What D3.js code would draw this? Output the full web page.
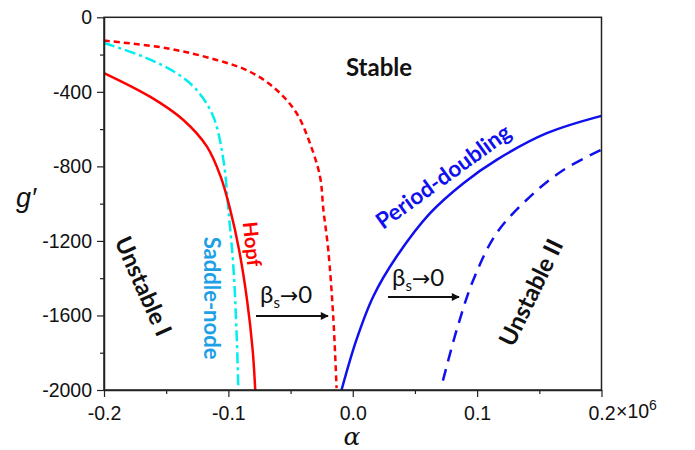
<!DOCTYPE html>
<html><head><meta charset="utf-8">
<script src="https://cdn.jsdelivr.net/npm/d3@7"></script>
<style>body{margin:0;background:#fff}</style>
</head><body>
<svg id="c" width="695" height="450"></svg>
<script>
// Data (alpha in units of 1e6, g')
const hopfSolid = [[-0.2,-299],[-0.163,-426],[-0.1362,-551],[-0.1172,-694],[-0.1062,-855],[-0.0985,-1033],[-0.0914,-1248],[-0.085,-1516],[-0.0805,-1784],[-0.0784,-2000]];
const saddleNode = [[-0.2,-138],[-0.1685,-211],[-0.1416,-300],[-0.1255,-390],[-0.1121,-533],[-0.104,-765],[-0.1,-1033],[-0.096,-1337],[-0.0934,-1694],[-0.092,-1985]];
const hopfDashed = [[-0.2,-125],[-0.1496,-166],[-0.1094,-229],[-0.0826,-292],[-0.0612,-390],[-0.0451,-515],[-0.0344,-676],[-0.0263,-855],[-0.0236,-1033],[-0.0197,-1248],[-0.0157,-1605],[-0.013,-1990]];
const pdSolid = [[-0.009,-2000],[0.003,-1730],[0.0165,-1498],[0.0353,-1284],[0.0622,-1051],[0.089,-890],[0.1157,-765],[0.156,-622],[0.2,-529]];
const pdDashed = [[0.0725,-1950],[0.0836,-1677],[0.097,-1408],[0.1157,-1158],[0.1426,-962],[0.1694,-819],[0.2,-711]];
const xTicks = [-0.2,-0.1,0.0,0.1,0.2];
const xTickLabels = ["-0.2","-0.1","0.0","0.1","0.2"];
const yTicks = [0,-400,-800,-1200,-1600,-2000];
const yTickLabels = ["0","-400","-800","-1200","-1600","-2000"];

const svg = d3.select("#c");
const x = d3.scaleLinear().domain([-0.2,0.2]).range([104,601.5]);
const y = d3.scaleLinear().domain([0,-2000]).range([17.3,390]);

const line = d3.line().x(d=>x(d[0])).y(d=>y(d[1])).curve(d3.curveCatmullRom.alpha(0.5));
const plot = svg.append("g");
plot.append("path").datum(hopfDashed).attr("d",line).attr("fill","none").attr("stroke","#ff0000").attr("stroke-width",2.5).attr("stroke-dasharray","6,4");
plot.append("path").datum(saddleNode).attr("d",line).attr("fill","none").attr("stroke","#00eeee").attr("stroke-width",2.5).attr("stroke-dasharray","11,4,3,4");
plot.append("path").datum(hopfSolid).attr("d",line).attr("fill","none").attr("stroke","#ff0000").attr("stroke-width",2.5);
plot.append("path").datum(pdSolid).attr("d",line).attr("fill","none").attr("stroke","#1010ee").attr("stroke-width",2.5);
plot.append("path").datum(pdDashed).attr("d",line).attr("fill","none").attr("stroke","#1010ee").attr("stroke-width",2.5).attr("stroke-dasharray","12,8");

// frame
svg.append("rect").attr("x",104).attr("y",17.3).attr("width",601.5-104).attr("height",390-17.3).attr("fill","none").attr("stroke","#222").attr("stroke-width",1.5);

// axes
const xAxis = d3.axisBottom(x).tickValues(xTicks).tickFormat((d,i)=>xTickLabels[i]).tickSize(7).tickSizeOuter(0);
const gx = svg.append("g").attr("transform","translate(0,390)").call(xAxis);
const xMinor = d3.axisBottom(x).tickValues([-0.15,-0.05,0.05,0.15]).tickFormat("").tickSize(4).tickSizeOuter(0);
svg.append("g").attr("transform","translate(0,390)").call(xMinor).select(".domain").remove();
const yAxis = d3.axisLeft(y).tickValues(yTicks).tickFormat((d,i)=>yTickLabels[i]).tickSize(7).tickSizeOuter(0);
const gy = svg.append("g").attr("transform","translate(104,0)").call(yAxis);
const yMinor = d3.axisLeft(y).tickValues([-200,-600,-1000,-1400,-1800]).tickFormat("").tickSize(4).tickSizeOuter(0);
svg.append("g").attr("transform","translate(104,0)").call(yMinor).select(".domain").remove();
svg.selectAll(".domain").attr("stroke","#222").attr("stroke-width",1.5);
svg.selectAll(".tick line").attr("stroke","#222").attr("stroke-width",1.2);
gx.selectAll("text").attr("font-family","Liberation Sans, Arial, sans-serif").attr("font-size",19.5).attr("fill","#111").attr("dy","1.0em");
gy.selectAll("text").attr("font-family","Liberation Sans, Arial, sans-serif").attr("font-size",19.5).attr("fill","#111").attr("dx","-0.1em");

// ×10^6
const ex = svg.append("text").attr("x",616).attr("y",418).attr("font-family","Liberation Sans, Arial, sans-serif").attr("font-size",19.5).attr("fill","#111");
ex.append("tspan").text("×10");
ex.append("tspan").attr("font-size",14).attr("dy",-8).text("6");

// axis titles
svg.append("text").attr("x",352).attr("y",445).attr("text-anchor","middle").attr("font-family","DejaVu Serif, serif").attr("font-style","italic").attr("font-size",25).attr("fill","#111").text("α");
svg.append("text").attr("x",26).attr("y",207).attr("text-anchor","middle").attr("font-family","Liberation Sans, Arial, sans-serif").attr("font-style","italic").attr("font-size",27).attr("fill","#111").text("g′");

// region labels
const F = "Lato, 'Open Sans', sans-serif";
function label(t,cx,cy,rot,col,size,weight){
  svg.append("text").attr("transform",`translate(${cx},${cy}) rotate(${rot})`).attr("text-anchor","middle").attr("dominant-baseline","central")
   .attr("font-family",F).attr("font-weight",weight||"bold").attr("font-size",size).attr("fill",col).text(t);
}
label("Stable",379,66,0,"#111",24);
label("Period-doubling",443,176,-36,"#1010ee",22.5);
label("Unstable I",144,286,66,"#111",23.5);
label("Saddle-node",212,298,90,"#1ea0e6",22);
label("Hopf",253,244,84,"#ff0000",20);
label("Unstable II",530,292,-64,"#111",24);

// beta_s -> 0 arrows
svg.append("defs").append("marker").attr("id","ah").attr("viewBox","0 0 10 10").attr("refX",9).attr("refY",5)
  .attr("markerWidth",10).attr("markerHeight",8).attr("markerUnits","userSpaceOnUse").attr("orient","auto")
  .append("path").attr("d","M0,0 L10,5 L0,10 Z").attr("fill","#111");
function bArrow(x0,x1,yy,ty){
  svg.append("line").attr("x1",x0).attr("x2",x1).attr("y1",yy).attr("y2",yy).attr("stroke","#111").attr("stroke-width",2).attr("marker-end","url(#ah)");
  const t = svg.append("text").attr("x",x0+4).attr("y",ty).attr("font-family",F).attr("font-size",24).attr("fill","#111");
  t.append("tspan").text("β");
  t.append("tspan").attr("font-size",15).attr("dy",5).text("s");
  t.append("tspan").attr("dy",-5).attr("font-family","'DejaVu Sans', sans-serif").attr("font-size",22).text("→");
  t.append("tspan").text("0");
}
bArrow(256,328,316,303);
bArrow(388,459,297,286);
</script>
</body></html>
